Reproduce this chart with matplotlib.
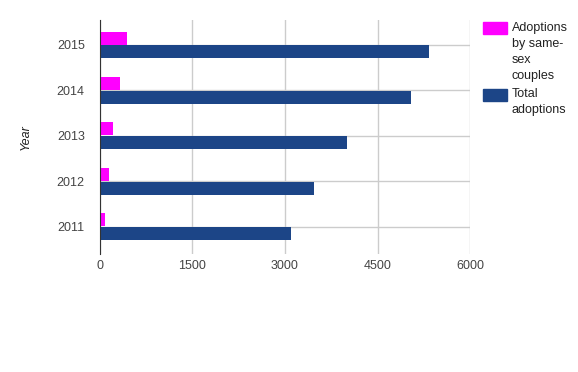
import numpy as np
import matplotlib.pyplot as plt
from matplotlib.patches import Rectangle

plt.rcParams['font.family'] = ['Liberation Sans', 'DejaVu Sans']

years = ['2011', '2012', '2013', '2014', '2015']
same_sex = [80, 145, 210, 325, 440]
total = [3090, 3465, 4000, 5040, 5335]

pink = '#ff00ff'
blue = '#1c4587'

fig = plt.figure(figsize=(5.78, 3.72), dpi=100)
W, H = 578, 372
ax = fig.add_axes([100 / W, 1 - 254 / H, 370 / W, 234 / H])

y = np.arange(len(years))
h = 0.285
ax.barh(y + h / 2 + 0.01, same_sex, height=h, color=pink, zorder=3)
ax.barh(y - h / 2 - 0.01, total, height=h, color=blue, zorder=3)

ax.set_xlim(0, 6000)
ax.set_ylim(-0.6, 4.55)
ax.set_xticks([0, 1500, 3000, 4500, 6000])
ax.set_yticks(y)
ax.set_yticklabels(years)
ax.grid(True, color='#cccccc', linewidth=1, zorder=0)
ax.set_axisbelow(True)
for s in ['top', 'right', 'bottom']:
    ax.spines[s].set_visible(False)
ax.spines['left'].set_color('#333333')
ax.spines['left'].set_zorder(4)
ax.tick_params(length=0, labelsize=9, colors='#444444')
ax.tick_params(axis='x', pad=4)
ax.tick_params(axis='y', pad=11)
ax.set_ylabel('Year', style='italic', fontsize=9, color='#222222', labelpad=18)

# legend
fig.patches.append(Rectangle((483 / W, 1 - 34 / H), 24 / W, 12 / H,
                             transform=fig.transFigure, color=pink))
fig.patches.append(Rectangle((483 / W, 1 - 101 / H), 24 / W, 12 / H,
                             transform=fig.transFigure, color=blue))
fig.text(512 / W, 1 - 22 / H, 'Adoptions\nby same-\nsex\ncouples', fontsize=9,
         color='#222222', va='top', ha='left', linespacing=1.45)
fig.text(512 / W, 1 - 88 / H, 'Total\nadoptions', fontsize=9,
         color='#222222', va='top', ha='left', linespacing=1.45)

fig.savefig('out.png', dpi=100)
